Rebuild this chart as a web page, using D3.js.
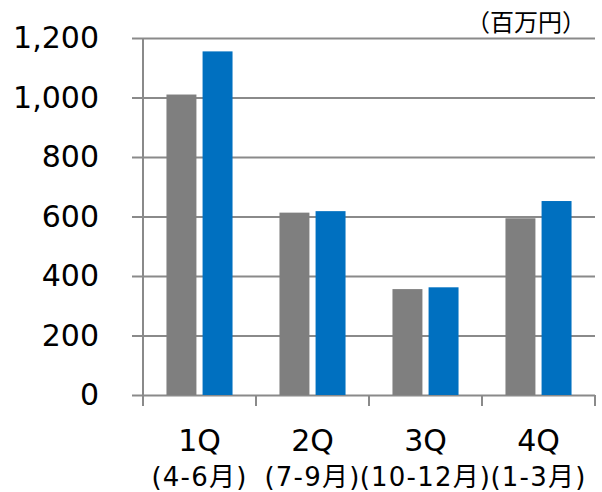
<!DOCTYPE html>
<html>
<head>
<meta charset="utf-8">
<script src="https://cdn.jsdelivr.net/npm/d3@7"></script>
<style>
  html, body { margin: 0; padding: 0; background: #fff; }
  svg { display: block; }
  text { font-family: "DejaVu Sans", Verdana, "Noto Sans CJK JP", sans-serif; fill: #000; }
</style>
</head>
<body>
<script>
(function(){
    'use strict'

    // data
    var quarters = ['1Q', '2Q', '3Q', '4Q'];
    var months = ['(4-6月)', '(7-9月)', '(10-12月)', '(1-3月)'];
    var seriesNames = ['prev', 'curr'];
    var prevValues = [1010, 613, 356, 594];
    var currValues = [1155, 618, 362, 652];
    var yTicks = [0, 200, 400, 600, 800, 1000, 1200];
    var unitLabel = '（百万円）';

    var W = 602, H = 492;
    var m = {left: 143, right: 7, top: 38, bottom: 97};

    var svg = d3.select('body').append('svg')
        .attr('width', W)
        .attr('height', H);

    var x = d3.scaleBand()
        .domain(quarters)
        .range([m.left, W - m.right])
        .paddingInner(0)
        .paddingOuter(0);

    var xs = d3.scaleBand()
        .domain(seriesNames)
        .range([0, x.bandwidth()])
        .paddingInner(0.17)
        .paddingOuter(0.65);

    var y = d3.scaleLinear()
        .domain([0, 1200])
        .range([H - m.bottom, m.top]);

    var colors = {prev: '#7f7f7f', curr: '#0070c0'};
    var gridColor = '#8a8a8a';

    // gridlines with left tick stubs
    var yAxis = svg.append('g')
        .attr('transform', 'translate(' + m.left + ',0)')
        .call(d3.axisLeft(y).tickValues(yTicks).tickSize(11).tickPadding(33)
            .tickFormat(d3.format(',')));
    yAxis.select('.domain').remove();
    yAxis.selectAll('.tick line').attr('stroke', gridColor).attr('stroke-width', 2);
    yAxis.selectAll('.tick').append('line')
        .attr('x1', 0).attr('x2', W - m.right - m.left)
        .attr('stroke', gridColor).attr('stroke-width', 2);
    yAxis.selectAll('.tick text')
        .style('font-size', '30px')
        .attr('fill', '#000');

    // bars
    var rows = quarters.map(function(q, i) {
        return {q: q, vals: [{k: 'prev', v: prevValues[i]}, {k: 'curr', v: currValues[i]}]};
    });

    svg.append('g').selectAll('g')
        .data(rows)
        .join('g')
        .attr('transform', function(d) { return 'translate(' + x(d.q) + ',0)'; })
        .selectAll('rect')
        .data(function(d) { return d.vals; })
        .join('rect')
        .attr('x', function(d) { return xs(d.k); })
        .attr('width', xs.bandwidth())
        .attr('y', function(d) { return y(d.v); })
        .attr('height', function(d) { return y(0) - y(d.v); })
        .attr('fill', function(d) { return colors[d.k]; });

    // left axis line
    svg.append('line')
        .attr('x1', m.left).attr('x2', m.left)
        .attr('y1', y(1200)).attr('y2', y(0) + 11)
        .attr('stroke', gridColor).attr('stroke-width', 2);

    // bottom category ticks
    var xAxis = svg.append('g')
        .attr('transform', 'translate(0,' + y(0) + ')');
    xAxis.selectAll('line')
        .data(quarters.map(function(q) { return x(q); }).concat([W - m.right]))
        .join('line')
        .attr('x1', function(d) { return d; }).attr('x2', function(d) { return d; })
        .attr('y1', 0).attr('y2', 11)
        .attr('stroke', gridColor).attr('stroke-width', 2);

    xAxis.selectAll('text.q')
        .data(quarters)
        .join('text')
        .attr('class', 'q')
        .attr('x', function(d) { return x(d) + x.bandwidth() / 2; })
        .attr('y', 56)
        .attr('text-anchor', 'middle')
        .style('font-size', '30px')
        .text(function(d) { return d; });

    xAxis.selectAll('text.m')
        .data(months)
        .join('text')
        .attr('class', 'm')
        .attr('x', function(d, i) { return x(quarters[i]) + x.bandwidth() / 2; })
        .attr('y', 91)
        .attr('text-anchor', 'middle')
        .style('font-size', '26px')
        .style('letter-spacing', '1.2px')
        .text(function(d) { return d; });

    // unit label
    svg.append('text')
        .attr('x', 586)
        .attr('y', 31)
        .attr('text-anchor', 'end')
        .style('font-family', '"Noto Sans CJK JP", sans-serif')
        .style('font-size', '24px')
        .text(unitLabel);
})();
</script>
</body>
</html>
